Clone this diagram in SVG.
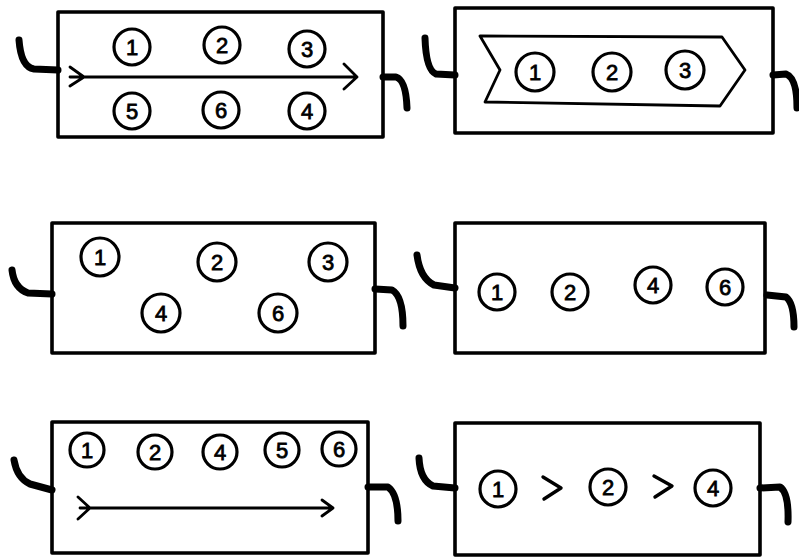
<svg xmlns="http://www.w3.org/2000/svg" width="799" height="559" viewBox="0 0 799 559">
<style>
.box{fill:none;stroke:#000;stroke-width:3.6;stroke-linejoin:round}
.c{fill:#fff;stroke:#000;stroke-width:3.2}
.t{font-family:"Liberation Sans",Arial,sans-serif;font-size:22px;text-anchor:middle;fill:#000;stroke:#000;stroke-width:0.8}
.ln{fill:none;stroke:#000;stroke-width:2.8;stroke-linecap:round;stroke-linejoin:round}
.hook{fill:none;stroke:#000;stroke-width:7;stroke-linecap:round;stroke-linejoin:round}
</style>
<rect width="799" height="559" fill="#fff"/>
<g id="connectors">
<path class="hook" d="M58,70 L34,69 Q21,67 19,40"/>
<path class="hook" d="M383,77 L396,77 Q406,80 407,108"/>
<path class="hook" d="M455,75 L436,74 Q426,70 425,38"/>
<path class="hook" d="M773,75 L786,74 Q797,78 797,108"/>
<path class="hook" d="M52,294 L28,293 Q14,288 12,270"/>
<path class="hook" d="M375,289 L392,290 Q403,296 403,326"/>
<path class="hook" d="M455,288 L434,285 Q420,278 417,255"/>
<path class="hook" d="M767,295 L786,297 Q794,303 794,327"/>
<path class="hook" d="M52,490 L30,484 Q17,478 14,460"/>
<path class="hook" d="M368,487 L388,487 Q398,494 398,521"/>
<path class="hook" d="M455,488 L433,486 Q420,480 419,458"/>
<path class="hook" d="M760,488 L780,487 Q789,493 788,522"/>
</g>
<g id="box1">
<rect class="box" x="58" y="12" width="325" height="125"/>
<path class="ln" d="M70,67 L84,77 L70,86 M70,77 L356,77 M344,64 L357,77 L344,89"/>
<circle class="c" cx="132" cy="47" r="18"/><text class="t" x="132" y="55">1</text>
<circle class="c" cx="222" cy="45" r="18"/><text class="t" x="222" y="53">2</text>
<circle class="c" cx="307" cy="49" r="18"/><text class="t" x="307" y="57">3</text>
<circle class="c" cx="132" cy="111" r="18"/><text class="t" x="132" y="119">5</text>
<circle class="c" cx="221" cy="110" r="18"/><text class="t" x="221" y="118">6</text>
<circle class="c" cx="307" cy="111" r="18"/><text class="t" x="307" y="119">4</text>
</g>
<g id="box2">
<rect class="box" x="455" y="8" width="318" height="125"/>
<polygon class="box" style="stroke-width:2.8" points="480,36 722,37 745,70 720,106 485,102 500,70"/>
<circle class="c" cx="535" cy="72" r="19"/><text class="t" x="535" y="80">1</text>
<circle class="c" cx="612" cy="72" r="19"/><text class="t" x="612" y="80">2</text>
<circle class="c" cx="685" cy="70" r="19"/><text class="t" x="685" y="78">3</text>
</g>
<g id="box3">
<rect class="box" x="52" y="223" width="323" height="130"/>
<circle class="c" cx="100" cy="257" r="19"/><text class="t" x="100" y="265">1</text>
<circle class="c" cx="217" cy="262" r="19"/><text class="t" x="217" y="270">2</text>
<circle class="c" cx="328" cy="262" r="19"/><text class="t" x="328" y="270">3</text>
<circle class="c" cx="161" cy="313" r="19"/><text class="t" x="161" y="321">4</text>
<circle class="c" cx="278" cy="313" r="19"/><text class="t" x="278" y="321">6</text>
</g>
<g id="box4">
<rect class="box" x="455" y="223" width="310" height="130"/>
<circle class="c" cx="497" cy="292" r="18"/><text class="t" x="497" y="300">1</text>
<circle class="c" cx="570" cy="292" r="18"/><text class="t" x="570" y="300">2</text>
<circle class="c" cx="653" cy="285" r="18"/><text class="t" x="653" y="293">4</text>
<circle class="c" cx="725" cy="287" r="18"/><text class="t" x="725" y="295">6</text>
</g>
<g id="box5">
<rect class="box" x="52" y="422" width="316" height="131"/>
<path class="ln" d="M78,497 L90,508 L78,519 M80,508 L333,508 M322,500 L333,508 L322,516"/>
<circle class="c" cx="87" cy="450" r="17"/><text class="t" x="87" y="458">1</text>
<circle class="c" cx="155" cy="452" r="17"/><text class="t" x="155" y="460">2</text>
<circle class="c" cx="220" cy="452" r="17"/><text class="t" x="220" y="460">4</text>
<circle class="c" cx="282" cy="450" r="17"/><text class="t" x="282" y="458">5</text>
<circle class="c" cx="339" cy="449" r="17"/><text class="t" x="339" y="457">6</text>
</g>
<g id="box6">
<rect class="box" x="455" y="423" width="305" height="132"/>
<circle class="c" cx="498" cy="489" r="18"/><text class="t" x="498" y="497">1</text>
<circle class="c" cx="608" cy="487" r="18"/><text class="t" x="608" y="495">2</text>
<circle class="c" cx="713" cy="488" r="18"/><text class="t" x="713" y="496">4</text>
<path class="ln" style="stroke-width:3.4" d="M543,477 L561,488 L544,499"/>
<path class="ln" style="stroke-width:3.4" d="M654,476 L672,486 L655,497"/>
</g>
</svg>
